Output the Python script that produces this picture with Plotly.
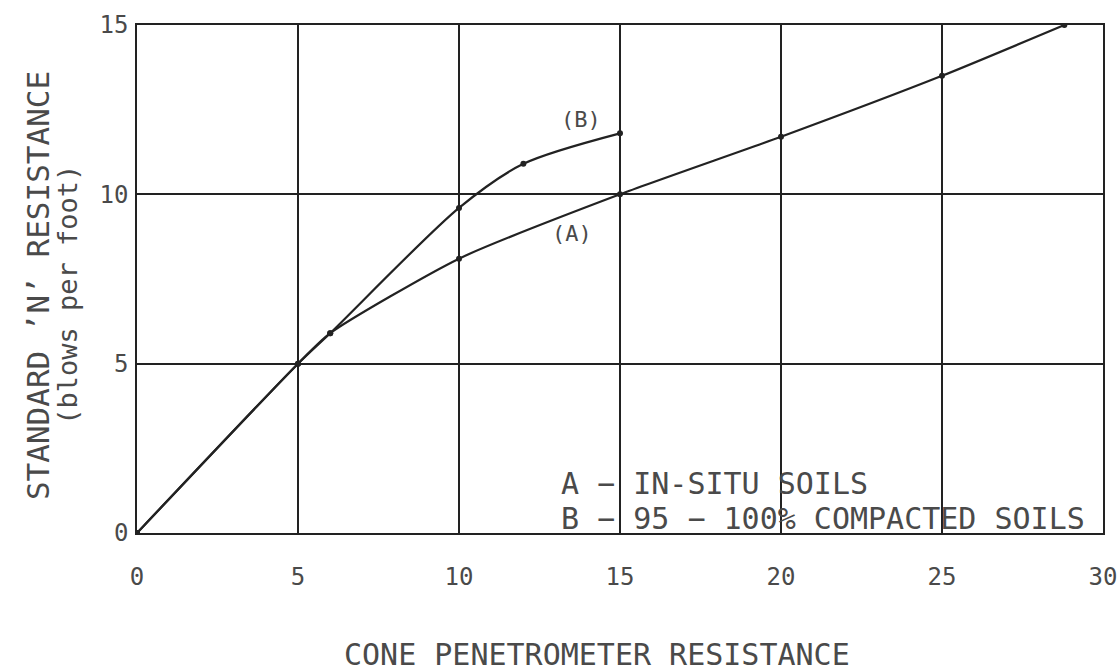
import plotly.graph_objects as go

# Data
cone_a = [0, 5, 6, 10, 15, 20, 25, 28.8]
spt_a = [0, 5, 5.9, 8.1, 10.0, 11.7, 13.5, 15.0]
cone_b = [0, 5, 6, 10, 12, 15]
spt_b = [0, 5, 5.9, 9.6, 10.9, 11.8]

x_ticks = [0, 5, 10, 15, 20, 25, 30]
y_ticks = [0, 5, 10, 15]

FONT = "DejaVu Sans Mono"
INK = "#222222"
TXT = "#4a4a4a"

fig = go.Figure()
fig.add_trace(go.Scatter(x=cone_a, y=spt_a, mode="lines+markers", name="A",
                         line=dict(color=INK, width=2.2, shape="spline", smoothing=0.6),
                         marker=dict(size=6, color=INK)))
fig.add_trace(go.Scatter(x=cone_b, y=spt_b, mode="lines+markers", name="B",
                         line=dict(color=INK, width=2.2, shape="spline", smoothing=0.8),
                         marker=dict(size=6, color=INK)))

fig.update_layout(
    width=1117, height=671,
    margin=dict(l=137, r=14, t=25, b=138),
    paper_bgcolor="white", plot_bgcolor="white",
    showlegend=False,
    font=dict(family=FONT, color=TXT, size=22),
    xaxis=dict(range=[0, 30], tickvals=x_ticks, showgrid=True, gridcolor=INK, gridwidth=1.5,
               zeroline=False, showline=True, linecolor=INK, linewidth=1.5, mirror=True,
               automargin=False, ticks="", ticklabelstandoff=21, ticklabeloverflow="allow",
               tickfont=dict(size=24, color=TXT, family=FONT)),
    yaxis=dict(range=[0, 15], tickvals=y_ticks, showgrid=True, gridcolor=INK, gridwidth=1.5,
               zeroline=False, showline=True, linecolor=INK, linewidth=1.5, mirror=True,
               automargin=False, ticks="", ticklabelstandoff=2, ticklabeloverflow="allow",
               tickfont=dict(size=24, color=TXT, family=FONT)),
)

ann = [
    dict(x=13.8, y=12.2, text="(B)", xref="x", yref="y", showarrow=False, font=dict(size=22)),
    dict(x=13.5, y=8.85, text="(A)", xref="x", yref="y", showarrow=False, font=dict(size=22)),
    dict(x=13.1, y=1.47, text="A − IN-SITU SOILS", xref="x", yref="y", showarrow=False,
         xanchor="left", font=dict(size=30)),
    dict(x=13.1, y=0.44, text="B − 95 − 100% COMPACTED SOILS", xref="x", yref="y", showarrow=False,
         xanchor="left", font=dict(size=30)),
    dict(x=0.476, y=-0.24, xref="paper", yref="paper", text="CONE PENETROMETER RESISTANCE",
         showarrow=False, font=dict(size=30), yanchor="middle"),
    dict(x=-0.1025, y=0.488, xref="paper", yref="paper", text="STANDARD ’N’ RESISTANCE",
         textangle=-90, showarrow=False, font=dict(size=31), xanchor="center", yanchor="middle"),
    dict(x=-0.0714, y=0.469, xref="paper", yref="paper", text="(blows per foot)",
         textangle=-90, showarrow=False, font=dict(size=27), xanchor="center", yanchor="middle"),
]
fig.update_layout(annotations=ann)

fig.write_html("out.html", config={"displayModeBar": False},
               post_script="document.body.style.margin='0';document.body.style.overflow='hidden';")
